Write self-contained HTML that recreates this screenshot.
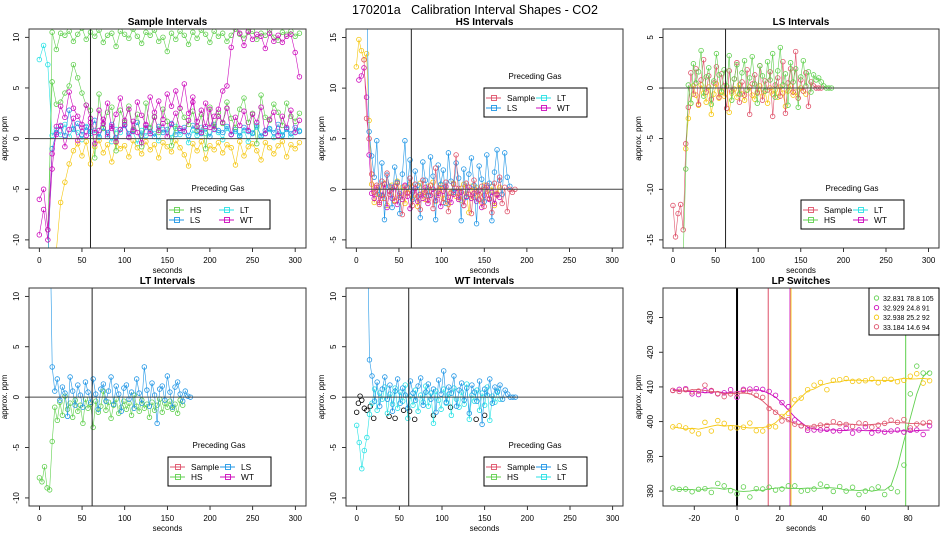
<!DOCTYPE html>
<html><head><meta charset="utf-8"><style>
body{margin:0;background:#fff;}
svg{display:block;font-family:"Liberation Sans",Arial,sans-serif;}
</style></head><body>
<svg id="fig" width="950" height="550" viewBox="0 0 950 550" xmlns="http://www.w3.org/2000/svg">
<rect width="950" height="550" fill="#fff"/>
<text x="475" y="14" text-anchor="middle" font-size="12.5" fill="#000">170201a&#160;&#160;&#160;Calibration Interval Shapes - CO2</text>
</svg>
<script>
// ---------- data ----------
const p1Step = 5;
const p1HSHigh = [null,null,-14,10.5,8.8,10.4,10.2,10.6,9.6,10.3,10.9,9.8,10.5,10.1,10.7,9.5,10.2,10.4,9.1,10.6,10.3,9.9,10.8,10.1,9.4,10.5,10.2,10.7,9.6,10.0,8.6,10.4,9.8,10.6,10.2,9.3,10.5,9.9,10.7,10.3,9.5,10.6,10.1,10.4,9.6,10.2,10.8,10.3,9.9,10.5,10.6,9.8,10.4,10.2,10.7,10.0,9.7,10.5,10.3,10.6,10.1,10.4];
const p1HSLow = [null,null,-9,5.6,3.4,3.6,4.5,5.2,7.3,6.0,4.5,3.3,2.8,-1.9,4.4,1.0,2.6,3.1,-1.2,2.8,1.6,3.2,0.9,2.4,-0.8,3.5,1.1,2.2,0.6,2.9,1.7,-0.7,1.0,3.0,2.1,1.4,2.7,0.8,2.4,-1.0,3.1,1.2,2.6,1.5,3.6,2.0,1.1,2.9,4.0,1.6,2.5,-0.5,4.3,2.1,1.8,3.4,2.6,1.3,3.5,2.2,1.7,2.5];
const p1WTa = [-9.5,-7,-10,-3,1.2,3.2,2.1,4.6,3.0,2.2,1.4,3.3,2.0,0.6,2.8,1.5,3.5,1.0,2.4,4.0,1.8,2.9,0.7,3.6,2.3,1.4,4.1,2.6,3.7,1.9,4.4,3.2,4.7,3.0,5.4,2.5,3.6,1.7,2.8,1.2,2.9,0.9,2.2,1.6,3.0,0.4,2.1,1.3,2.7,0.8,2.4,1.6,3.1,0.5,1.9,2.6,0.3,2.2,1.1,2.8,0.6,1.8];
const p1WTb = [-6,-5,-9,-1.5,0.4,1.3,-0.8,0.9,2.0,-0.2,1.1,0.3,1.6,-0.5,0.8,1.9,0.2,1.2,-0.3,0.9,1.4,0.1,1.7,0.6,-0.4,1.3,0.5,2.1,0.8,1.5,0.2,1.4,2.5,1.0,0.7,1.8,4.1,1.2,0.6,3.5,1.1,2.2,2.9,4.7,5.2,9.0,11.2,10.4,9.2,10.6,9.8,10.3,10.1,8.9,10.4,9.6,10.2,9.5,10.1,10.3,8.5,6.1];
const p1Yellow = [null,null,null,null,-11,-6.3,-4.3,-2.5,-1.2,-0.5,-1.7,-0.3,-2.5,-0.8,-0.2,-1.4,-0.6,-2.3,-0.4,-1.0,-0.7,-1.8,-0.2,-0.9,-1.5,-0.3,-1.1,-0.6,-1.9,-0.4,-0.8,-1.3,-0.2,-0.9,-1.6,-2.7,-0.5,-1.2,-0.3,-2.0,-0.7,-1.1,-0.4,-1.4,-0.6,-0.9,-2.6,-0.3,-1.7,-0.8,-0.5,-1.2,-2.1,-0.4,-0.9,-1.5,-0.7,-0.3,-1.8,-0.6,-1.0,-0.4];
const p1LT = [7.8,9.2,7.3,0.3,0.9,0.4,1.4,0.2,1.0,0.6,-0.1,1.2,0.5,0.8,0.1,1.1,0.4,-0.3,0.9,0.6,1.3,0.2,0.7,-0.5,0.8,0.3,1.0,0.5,-0.2,0.9,0.6,0.1,1.2,0.4,0.7,-0.4,0.8,0.3,1.1,0.5,0.2,0.9,0.6,-0.1,1.0,0.4,0.7,0.2,0.8,-0.3,0.6,1.1,0.3,0.5,0.9,0.1,0.7,0.4,1.0,0.2,0.6,0.8];
const p1LS = [null,null,-12,-1,0.6,1.2,0.3,2.8,0.9,1.5,0.4,1.1,0.7,1.8,0.2,1.0,0.6,1.4,0.1,0.9,1.3,0.5,0.8,1.6,0.3,1.1,0.7,0.2,1.2,0.6,0.9,1.5,0.4,0.8,1.1,0.3,1.3,0.7,0.5,1.0,0.2,1.4,0.8,0.6,1.2,0.4,0.9,0.3,1.1,0.7,0.5,1.3,0.2,0.8,1.0,0.6,1.4,0.3,0.9,0.5,1.1,0.7];

const p2Step = 3;
const p2Yellow = [12.1,14.8,13.7,12.8,13.4,6.8,0.5,-1.3,-0.5,0.3,-0.9,0.6,-1.6,-0.2,0.4,-1.1,0.8,-0.6,0.2,-1.4,-0.3,0.5,-0.8,0.1,-1.7,0.6,-0.4,-1.0,0.3,-0.6,0.7,-1.2,-0.1,0.4,-0.9,0.2,-1.5,-0.3,0.6,-0.7,0.1,-1.1,0.5,-0.4,-2.3,0.3,-0.8,0.2,-0.5,-1.3,0.4,-0.2,-0.9,0.3,-1.6,-0.4,0.2];
const p2WT = [null,10.8,11.2,12,9.1,3.4,-0.4,-0.9,0.2,-1.3,-0.6,0.5,-1.8,-0.2,-0.9,0.3,-1.5,-0.4,-1.0,0.4,-0.7,-1.9,-0.3,0.1,-1.2,-0.5,-0.9,0.2,-1.4,-0.6,0.0,-1.1,-0.4,-1.7,-0.2,0.3,-0.8,-1.3,-0.5,0.1,-1.0,-0.3,-1.6,-0.7,0.2,-0.9,-0.4,-1.2,-0.1,-1.8,-0.6,0.2,-1.0,-0.3,-1.4,-0.5,-0.8];
const p2Sample = [null,null,null,12.8,7,5.0,1.5,-0.3,0.4,-1.5,0.8,-0.9,1.6,-0.5,0.2,-1.2,0.6,-0.8,-2.5,0.3,-0.4,1.1,-1.6,0.5,-0.7,-2.0,0.9,-0.3,-1.1,0.4,-1.9,2.1,-0.6,0.2,-1.3,0.7,-2.2,-0.4,0.5,3.4,-0.8,0.1,-1.6,0.6,-0.5,-2.4,0.9,-0.2,-1.0,0.3,-1.7,0.4,-0.9,-2.3,0.6,-0.6,1.2,-1.4,0.2,-2.2,0.0,-0.3,0.0];
const p2LS = [null,null,null,null,20,5.7,3.3,1.2,4.8,-0.5,2.6,-3.0,1.4,0.3,-1.8,2.2,0.7,-2.4,1.5,4.8,0.2,2.9,-1.0,1.8,0.4,-2.8,2.7,0.9,-0.6,3.2,1.3,-3.0,2.4,0.5,1.9,-1.4,3.6,0.8,-0.3,2.6,1.1,-3.1,2.0,-0.8,1.5,3.1,0.4,-3.4,2.3,1.0,-1.2,3.4,0.6,-3.1,1.7,3.9,0.9,-0.5,3.6,1.2,0.3];

const p3Step = 3;
const p3Sample = [-11.6,-14.7,-12.4,-11.5,-14,-5.5,-1.9,1.5,-0.6,1.9,-1.6,0.8,2.8,-0.4,1.2,-1.1,0.5,2.1,-0.9,1.4,0.2,-2.0,1.7,-0.3,0.9,2.5,-1.4,0.6,-0.7,1.8,-2.6,0.4,1.3,-0.5,2.2,-1.2,0.7,-0.2,1.6,-2.8,0.3,1.0,-0.8,2.6,-2.5,0.5,1.9,-0.4,3.6,-1.0,0.8,-0.3,1.5,-1.8,0.6,0.2,0.0,0.0,0.0];
const p3HS = [null,null,null,null,-16.5,-8,0.3,-1.5,2.4,0.5,1.6,3.7,-0.8,1.1,2.0,-1.6,0.7,3.4,1.3,-0.4,1.8,0.2,3.2,-1.2,0.9,2.3,-0.6,1.5,2.7,-0.2,1.0,3.1,0.4,-1.5,2.2,1.2,-0.3,2.6,0.8,3.4,-0.9,1.7,4.0,0.3,1.4,-1.7,2.5,0.6,1.9,-1.9,1.1,2.7,0.2,1.6,-0.4,1.3,0.8,1.0,0.6,0.2,0.0,0.0,0.0];
const p3Yellow = [null,null,null,null,null,-6,-3,-1.5,0.2,-0.7,-1.7,0.3,-0.5,-1.4,0.1,-2.6,-0.6,0.4,-1.0,-0.3,-0.8,0.2,-2.4,-0.5,-0.1,-0.9,0.3,-0.6,-1.2,-0.2,0.1,-0.7,-1.1,-0.4,0.2,-0.8,-0.3,-1.5,0.0,-0.6,-0.2,-0.9,0.1,-0.5,-1.8,-0.3,0.2,-0.7,-0.4,-1.0,0.0,-0.3,-0.6];

const p4Step = 3;
const p4HS = [-8,-8.4,-6.9,-9,-9.2,-4.4,-1.0,-2.3,-0.5,-1.8,0.1,-1.2,-0.6,-2.0,-0.3,-1.4,-0.8,-2.6,-0.2,-1.1,-0.7,-3.0,-0.4,-1.5,-0.9,0.6,-1.3,-0.5,-2.1,-0.8,-0.2,-1.6,-1.0,-0.4,-1.2,-0.6,-1.8,0.2,-0.9,-1.4,-0.3,-1.1,-0.7,-2.0,-0.5,-1.3,-0.8,-0.2,-1.5,-0.6,-1.0,-0.4,-1.2,-0.7,-1.6,-0.3,-0.8];
const p4LS = [null,null,null,null,20,3.0,0.6,1.8,-0.3,1.0,0.4,-1.9,2.0,0.6,-0.8,1.2,0.2,-1.0,1.5,0.5,-0.5,1.8,0.3,-1.2,0.8,1.3,-0.4,0.6,2.0,-0.7,1.1,0.3,-1.4,0.9,1.2,-0.2,0.5,-1.1,1.8,0.4,-0.6,3.0,0.7,-0.9,1.4,0.2,-2.6,0.8,1.1,-0.3,2.1,0.5,-1.0,1.0,1.5,0.3,-0.4,0.6,0.1,0.0];

const p5Step = 3;
const p5LT = [-2.8,-4.5,-7.1,-5.3,-4.0,-1.7,-0.6,0.8,-1.3,0.4,-0.2,1.0,-1.6,0.3,-0.7,0.9,-1.1,0.5,-0.4,1.2,-2.1,0.1,-0.8,0.7,-1.4,0.2,-0.5,1.1,-0.9,0.4,-2.6,0.6,-0.3,-1.2,0.8,-0.6,0.3,-1.8,0.9,-0.2,-1.0,0.5,-0.7,1.3,-2.2,0.2,-0.4,0.7,-1.3,0.4,-0.8,1.0,-2.3,0.1,-0.5,0.6,-0.2];
const p5LS = [null,null,null,null,20,3.7,2.1,-0.4,1.5,-0.9,0.8,2.0,-0.2,1.2,-1.4,0.6,1.8,-0.6,0.9,0.2,-1.1,1.6,0.4,-0.3,1.1,1.9,-0.8,0.5,1.3,-0.2,0.8,-1.5,1.7,0.3,2.6,-0.5,1.0,0.4,2.1,-0.9,0.7,1.4,-0.3,0.9,-1.6,1.2,0.5,-0.4,1.6,-2.7,0.8,0.2,1.8,-0.6,1.0,0.5,1.2,-0.2,0.7,0.3,0.0,0.0,0.0];
const p5BlackT = [0,2,4,6,9,12,16,20,38,45,55,62,68,90,110,140,150];
const p5BlackY = [-1.5,-0.6,0.1,-0.3,-1.1,-1.3,-0.9,-2.1,-1.9,-2.1,-1.3,-1.4,-2.2,-1.8,-1.0,-2.2,-1.8];

const p6Start = -30, p6Step = 3;
const p6Green = [380.9,380.5,380.6,379.8,380.5,380.7,379.6,382.2,381.5,380.1,379.2,381.2,378.3,380.7,380.6,381.1,380.3,380.6,381.5,381.5,380.0,380.2,380.6,382.0,381.3,379.9,381.3,380.0,381.1,379.0,380.0,380.6,381.2,379.0,380.8,379.8,387.5,408,416,414,414];
const p6Magenta = [409,409.3,409.5,408,407.8,409,408.8,408,408.3,409.2,407,409.3,409.4,409.5,409.3,408.7,407.6,405.5,404.3,400.5,398.8,397.5,397.6,397.6,397.8,397.3,397.4,398.2,396.7,397.6,398.5,396.7,397.4,397.0,397.3,397.6,397.0,397.5,397.6,396.3,398.8];
const p6Yellow = [398.5,398.8,398.2,397.3,396.5,399.8,397.3,400.3,399.5,398.2,398.2,398.4,399.6,397.4,397.3,398.6,398.5,401.5,402.4,406.3,406.8,409.2,410.5,411.3,409.2,411.9,412.1,412.4,411.6,411.7,411.8,412.3,411.2,412.2,412.2,411.5,411.9,413.1,413.8,411.1,411.8];
const p6Red = [409,408.7,409.2,408.6,408.8,410.5,409,408.1,407.2,408,408,409,408.6,407.6,407,403.8,402.7,400.2,400.6,399.3,398.8,398.2,398.6,399.0,398.9,400.0,399.4,399.2,398.6,399.6,399.4,398.4,399.0,399.5,400.4,399.8,400.6,398.2,399.3,399.6,399.8];
const p6Switch = [78.8, 24.8, 25.2, 14.6];
const p6Labels = ["32.831 78.8 105","32.929 24.8 91","32.938 25.2 92","33.184 14.6 94"];

const xTicksA = [0,50,100,150,200,250,300];
const xTicksLP = [-20,0,20,40,60,80];

const C = {HS:"#61d04f", LS:"#2297e6", LT:"#28e2e5", WT:"#cd0bbc", Sample:"#df536b", Y:"#f5c710", K:"#000000"};

// ---------- drawing ----------
const NS = "http://www.w3.org/2000/svg";
const svg = document.getElementById("fig");
function el(tag, attrs, parent) {
  const e = document.createElementNS(NS, tag);
  for (const k in attrs) e.setAttribute(k, attrs[k]);
  (parent || svg).appendChild(e);
  return e;
}
let clipN = 0;
function makePanel(cfg) {
  const g = el("g", {});
  
  
  const b = cfg.box;
  const sx = v => b.l + (v - cfg.xd[0]) / (cfg.xd[1] - cfg.xd[0]) * (b.r - b.l);
  const sy = v => b.b - (v - cfg.yd[0]) / (cfg.yd[1] - cfg.yd[0]) * (b.b - b.t);
  const id = "clip" + (clipN++);
  const cp = el("clipPath", {id: id}, g);
  el("rect", {x: b.l, y: b.t, width: b.r - b.l, height: b.b - b.t}, cp);
  const plot = el("g", {"clip-path": "url(#" + id + ")"}, g);
  
  
  const tt = el("text", {x: (b.l + b.r) / 2, y: b.t - 4, "text-anchor": "middle", "font-size": "10", "font-weight": "bold"}, g);
  tt.textContent = cfg.title;
  
  
  const xa = el("g", {stroke: "#000", "stroke-width": 0.8}, g);
  
  
  el("line", {x1: sx(cfg.xt[0]), x2: sx(cfg.xt[cfg.xt.length - 1]), y1: b.b, y2: b.b}, xa);
  cfg.xt.forEach(v => {
    el("line", {x1: sx(v), x2: sx(v), y1: b.b, y2: b.b + 4}, xa);
    const t = el("text", {x: sx(v), y: b.b + 15, "text-anchor": "middle", "font-size": "8", stroke: "none", fill: "#000"}, xa);
    t.textContent = v;
  });
  const xl = el("text", {x: (b.l + b.r) / 2, y: b.b + 25, "text-anchor": "middle", "font-size": "8"}, g);
  xl.textContent = "seconds";
  
  
  const ya = el("g", {stroke: "#000", "stroke-width": 0.8}, g);
  
  
  el("line", {x1: b.l, x2: b.l, y1: sy(cfg.yt[0]), y2: sy(cfg.yt[cfg.yt.length - 1])}, ya);
  cfg.yt.forEach(v => {
    el("line", {x1: b.l - 4, x2: b.l, y1: sy(v), y2: sy(v)}, ya);
    const tx = b.l - 10, ty = sy(v);
    const t = el("text", {x: tx, y: ty, "text-anchor": "middle", "font-size": "8", stroke: "none", fill: "#000", transform: "rotate(-90 " + tx + " " + ty + ")"}, ya);
    t.textContent = v;
  });
  const yx = b.l - 22, yy = (b.t + b.b) / 2;
  const yl = el("text", {x: yx, y: yy, "text-anchor": "middle", "font-size": "8", transform: "rotate(-90 " + yx + " " + yy + ")"}, g);
  yl.textContent = "approx. ppm";
  
  
  el("rect", {x: b.l, y: b.t, width: b.r - b.l, height: b.b - b.t, fill: "none", stroke: "#333", "stroke-width": 1}, g);
  return {g, plot, sx, sy, b};
}
function series(P, name, vals, t0, dt, color, opts) {
  opts = opts || {};
  const g = el("g", {}, P.plot);
  
  
  let d = "", pen = false;
  vals.forEach((v, i) => {
    if (v === null) { pen = false; return; }
    const x = P.sx(t0 + i * dt), y = P.sy(v);
    d += (pen ? "L" : "M") + x.toFixed(1) + " " + y.toFixed(1);
    pen = true;
  });
  if (!opts.noLine) el("path", {d: d, fill: "none", stroke: color, "stroke-width": opts.lw || 0.6}, g);
  if (!opts.noPts) vals.forEach((v, i) => {
    if (v === null) return;
    const c = el("circle", {cx: P.sx(t0 + i * dt), cy: P.sy(v), r: 2.3, fill: "none", stroke: color, "stroke-width": 0.8}, g);
    
    
  });
}
function refLines(P, tv) {
  el("line", {x1: P.b.l, x2: P.b.r, y1: P.sy(0), y2: P.sy(0), stroke: "#444", "stroke-width": 1}, P.plot);
  el("line", {x1: P.sx(tv), x2: P.sx(tv), y1: P.b.t, y2: P.b.b, stroke: "#222", "stroke-width": 1}, P.plot);
}
function legend(P, name, lx, ly, entries) {
  const g = el("g", {}, P.g);
  
  
  const ti = el("text", {x: lx + 51, y: ly - 9, "text-anchor": "middle", "font-size": "8"}, g);
  ti.textContent = "Preceding Gas";
  el("rect", {x: lx, y: ly, width: 103, height: 29, fill: "#fff", stroke: "#000", "stroke-width": 1}, g);
  entries.forEach((e, i) => {
    const col = Math.floor(i / 2), row = i % 2;
    const x0 = lx + 2 + col * 50, y0 = ly + 10 + row * 10;
    const eg = el("g", {}, g);
    
    
    el("line", {x1: x0, x2: x0 + 15, y1: y0, y2: y0, stroke: e[1], "stroke-width": 1}, eg);
    el("rect", {x: x0 + 5.5, y: y0 - 2.5, width: 5, height: 5, fill: "none", stroke: e[1], "stroke-width": 0.9}, eg);
    const t = el("text", {x: x0 + 21, y: y0 + 3, "font-size": "8.3"}, eg);
    t.textContent = e[0];
  });
}

// Panel 1
const P1 = makePanel({name: "sample-intervals", title: "Sample Intervals", box: {l: 29, r: 306, t: 29, b: 248}, xd: [-12.1, 312.7], yd: [-10.8, 10.82], xt: xTicksA, yt: [-10,-5,0,5,10]});
series(P1, "sample-hs-high-series", p1HSHigh, 0, p1Step, C.HS);
series(P1, "sample-lt-series", p1LT, 0, p1Step, C.LT);
series(P1, "sample-ls-series", p1LS, 0, p1Step, C.LS);
series(P1, "sample-yellow-series", p1Yellow, 0, p1Step, C.Y);
series(P1, "sample-hs-series", p1HSLow, 0, p1Step, C.HS);
series(P1, "sample-wt-b-series", p1WTb, 0, p1Step, C.WT);
series(P1, "sample-wt-series", p1WTa, 0, p1Step, C.WT);
refLines(P1, 60);
legend(P1, "sample-legend", 167, 200, [["HS", C.HS], ["LS", C.LS], ["LT", C.LT], ["WT", C.WT]]);

// Panel 2
const P2 = makePanel({name: "hs-intervals", title: "HS Intervals", box: {l: 346, r: 623, t: 29, b: 248}, xd: [-12.1, 312.7], yd: [-5.8, 15.84], xt: xTicksA, yt: [-5,0,5,10,15]});
series(P2, "hs-yellow-series", p2Yellow, 0, p2Step, C.Y);
series(P2, "hs-wt-series", p2WT, 0, p2Step, C.WT);
series(P2, "hs-ls-series", p2LS, 0, p2Step, C.LS);
series(P2, "hs-sample-series", p2Sample, 0, p2Step, C.Sample);
refLines(P2, 64.5);
legend(P2, "hs-legend", 484, 88, [["Sample", C.Sample], ["LS", C.LS], ["LT", C.LT], ["WT", C.WT]]);

// Panel 3
const P3 = makePanel({name: "ls-intervals", title: "LS Intervals", box: {l: 663, r: 939, t: 29, b: 248}, xd: [-11.7, 312.2], yd: [-15.8, 5.83], xt: xTicksA, yt: [-15,-10,-5,0,5]});
series(P3, "ls-yellow-series", p3Yellow, 0, p3Step, C.Y);
series(P3, "ls-sample-series", p3Sample, 0, p3Step, C.Sample);
series(P3, "ls-hs-series", p3HS, 0, p3Step, C.HS);
refLines(P3, 61.7);
legend(P3, "ls-legend", 801, 200, [["Sample", C.Sample], ["HS", C.HS], ["LT", C.LT], ["WT", C.WT]]);

// Panel 4
const P4 = makePanel({name: "lt-intervals", title: "LT Intervals", box: {l: 29, r: 306, t: 288, b: 506}, xd: [-12.2, 312.5], yd: [-10.8, 10.83], xt: xTicksA, yt: [-10,-5,0,5,10]});
series(P4, "lt-hs-series", p4HS, 0, p4Step, C.HS);
series(P4, "lt-ls-series", p4LS, 0, p4Step, C.LS);
refLines(P4, 61.8);
legend(P4, "lt-legend", 168, 457, [["Sample", C.Sample], ["HS", C.HS], ["LS", C.LS], ["WT", C.WT]]);

// Panel 5
const P5 = makePanel({name: "wt-intervals", title: "WT Intervals", box: {l: 346, r: 623, t: 288, b: 506}, xd: [-12.5, 312.1], yd: [-10.8, 10.83], xt: xTicksA, yt: [-10,-5,0,5,10]});
(function () {
  const g = el("g", {}, P5.plot);
  
  
  p5BlackT.forEach((t, i) => {
    const c = el("circle", {cx: P5.sx(t), cy: P5.sy(p5BlackY[i]), r: 2.3, fill: "none", stroke: C.K, "stroke-width": 0.8}, g);
    
    
  });
})();
series(P5, "wt-lt-series", p5LT, 0, p5Step, C.LT);
series(P5, "wt-ls-series", p5LS, 0, p5Step, C.LS);
refLines(P5, 61);
legend(P5, "wt-legend", 484, 457, [["Sample", C.Sample], ["HS", C.HS], ["LS", C.LS], ["LT", C.LT]]);

// Panel 6
const P6 = makePanel({name: "lp-switches", title: "LP Switches", box: {l: 663, r: 939, t: 288, b: 506}, xd: [-34.6, 94.4], yd: [375.7, 438.5], xt: xTicksLP, yt: [380,390,400,410,420,430]});
const p6Series = [[p6Green, C.HS, "green"], [p6Magenta, C.WT, "magenta"], [p6Yellow, C.Y, "yellow"], [p6Red, C.Sample, "red"]];
el("line", {x1: P6.sx(0), x2: P6.sx(0), y1: P6.b.t, y2: P6.b.b, stroke: "#000", "stroke-width": 2}, P6.plot);
p6Series.forEach((s, k) => {
  const x = P6.sx(p6Switch[k]);
  const ln = el("line", {x1: x, x2: x, y1: P6.b.t, y2: P6.b.b, stroke: s[1], "stroke-width": 1.2, opacity: 0.85}, P6.plot);
  
  
});
p6Series.forEach(s => {
  const vals = s[0];
  const sm = vals.map((v, i) => {
    let sum = 0, n = 0;
    for (let j = Math.max(0, i - 2); j <= Math.min(vals.length - 1, i + 2); j++) { sum += vals[j]; n++; }
    return sum / n;
  });
  series(P6, "lp-" + s[2] + "-smooth", sm, p6Start, p6Step, s[1], {noPts: true, lw: 0.9});
  series(P6, "lp-" + s[2] + "-points", vals, p6Start, p6Step, s[1], {noLine: true});
});
(function () {
  const g = el("g", {}, P6.g);
  
  
  el("rect", {x: 869, y: 288, width: 70, height: 47, fill: "#fff", stroke: "#000", "stroke-width": 1}, g);
  p6Series.forEach((s, k) => {
    const y = 298 + k * 9.6;
    const eg = el("g", {}, g);
    
    
    el("circle", {cx: 876.5, cy: y, r: 2.2, fill: "none", stroke: s[1], "stroke-width": 0.9}, eg);
    const t = el("text", {x: 883, y: y + 3, "font-size": "7"}, eg);
    t.textContent = p6Labels[k];
  });
})();
</script>
</body></html>
